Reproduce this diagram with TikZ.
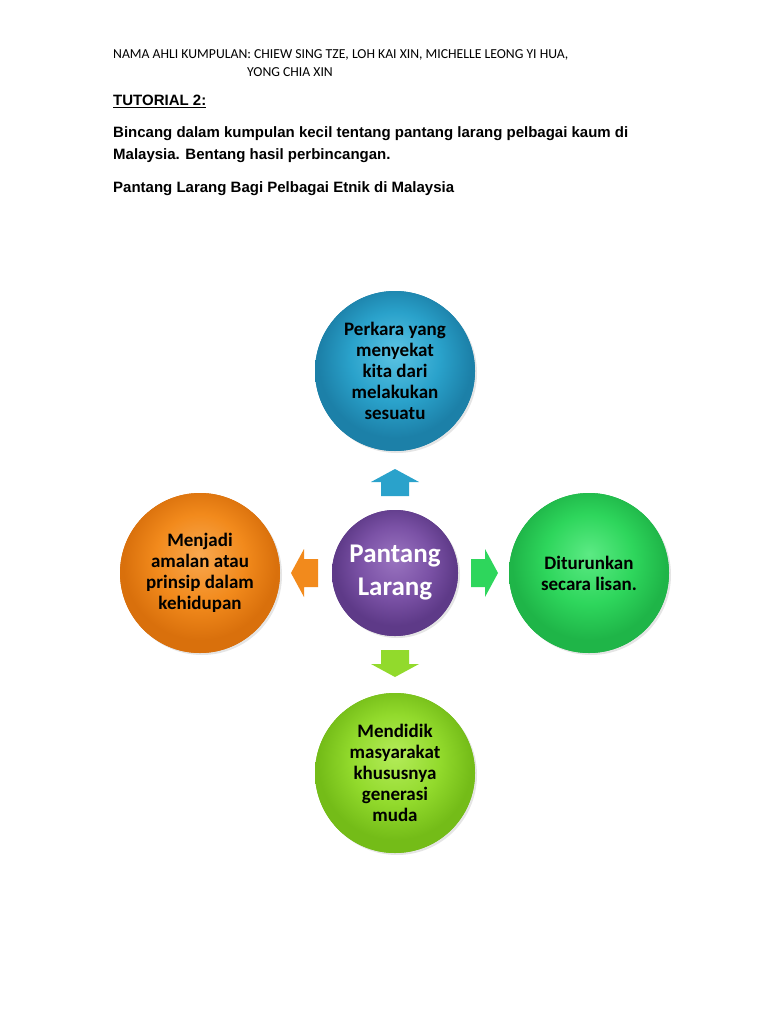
\documentclass[tikz,border=0pt]{standalone}
\usepackage{fontspec}
\setmainfont{Carlito}
\newfontfamily\arialf{Liberation Sans}
\usetikzlibrary{shadows}
\definecolor{blueL}{HTML}{5CC4E4}\definecolor{blueB}{HTML}{2AA2CB}\definecolor{blueD}{HTML}{1C80A8}
\definecolor{orL}{HTML}{F8A850}\definecolor{orB}{HTML}{F28A1C}\definecolor{orD}{HTML}{D9700C}
\definecolor{puL}{HTML}{9A74C0}\definecolor{puB}{HTML}{7B52A6}\definecolor{puD}{HTML}{5E3A88}
\definecolor{grL}{HTML}{5CEA84}\definecolor{grB}{HTML}{2ED65C}\definecolor{grD}{HTML}{1FB548}
\definecolor{liL}{HTML}{B4EC5A}\definecolor{liB}{HTML}{92DA2C}\definecolor{liD}{HTML}{74BC18}
\pgfdeclareradialshading{shblue}{\pgfpoint{0bp}{6bp}}{color(0bp)=(blueL);color(14bp)=(blueB);color(24bp)=(blueD);color(50bp)=(blueD)}
\pgfdeclareradialshading{shor}{\pgfpoint{0bp}{6bp}}{color(0bp)=(orL);color(14bp)=(orB);color(24bp)=(orD);color(50bp)=(orD)}
\pgfdeclareradialshading{shpu}{\pgfpoint{0bp}{6bp}}{color(0bp)=(puL);color(14bp)=(puB);color(24bp)=(puD);color(50bp)=(puD)}
\pgfdeclareradialshading{shgr}{\pgfpoint{0bp}{6bp}}{color(0bp)=(grL);color(14bp)=(grB);color(24bp)=(grD);color(50bp)=(grD)}
\pgfdeclareradialshading{shli}{\pgfpoint{0bp}{6bp}}{color(0bp)=(liL);color(14bp)=(liB);color(24bp)=(liD);color(50bp)=(liD)}
\tikzset{
  ball/.style={circle, minimum size=160pt, inner sep=0pt, align=center,
    font=\bfseries\fontsize{19}{21}\selectfont,
    drop shadow={opacity=0.2, shadow xshift=2pt, shadow yshift=-2pt}},
  hub/.style={ball, minimum size=126pt, text=white, font=\fontsize{27}{33}\selectfont\bfseries},
  hdr/.style={anchor=west, inner sep=0pt, font=\fontsize{13.7}{16}\selectfont},
  ttl/.style={anchor=west, inner sep=0pt, font=\arialf\bfseries\fontsize{15}{18}\selectfont}
}
\newcommand{\blockarrow}[4]{% x y angle colorbase
  \fill[#4, shift={(#1,#2)}, rotate=#3]
    (-13,-14) -- (1,-14) -- (1,-24) -- (14,0) -- (1,24) -- (1,14) -- (-13,14) -- cycle;
}
\begin{document}
\begin{tikzpicture}[x=1pt,y=-1pt]
\useasboundingbox[fill=white] (0,0) rectangle (768,1024);
% header
\node[hdr] (h1) at (113,55) {NAMA AHLI KUMPULAN: CHIEW SING TZE, LOH KAI XIN, MICHELLE LEONG YI HUA,};
\node[hdr] (h2) at (247,72) {YONG CHIA XIN};
\node[ttl] (t1) at (113,101) {\underline{TUTORIAL 2:}};
\node[ttl] (t2) at (113,134) {Bincang dalam kumpulan kecil tentang pantang larang pelbagai kaum di};
\node[ttl] (t3) at (113,156) {Malaysia. Bentang hasil perbincangan.};
\node[ttl] (t4) at (113,189) {Pantang Larang Bagi Pelbagai Etnik di Malaysia};
% circles
\node[ball, preaction={fill=blueD}, shading=shblue] (top) at (395,371) {Perkara yang\\menyekat\\kita dari\\melakukan\\sesuatu};
\node[ball, preaction={fill=orD}, shading=shor] (left) at (200,573) {Menjadi\\amalan atau\\prinsip dalam\\kehidupan};
\node[ball, preaction={fill=grD}, shading=shgr] (right) at (589,573) {Diturunkan\\secara lisan.};
\node[ball, preaction={fill=liD}, shading=shli] (bottom) at (395,773) {Mendidik\\masyarakat\\khususnya\\generasi\\muda};
\node[hub, preaction={fill=puD}, shading=shpu] (hub) at (395,573) {Pantang\\Larang};
% block arrows
\blockarrow{395}{483}{90}{blueB}
\blockarrow{305}{573}{180}{orB}
\blockarrow{484}{573}{0}{grB}
\blockarrow{395}{663}{-90}{liB}
\end{tikzpicture}
\end{document}
